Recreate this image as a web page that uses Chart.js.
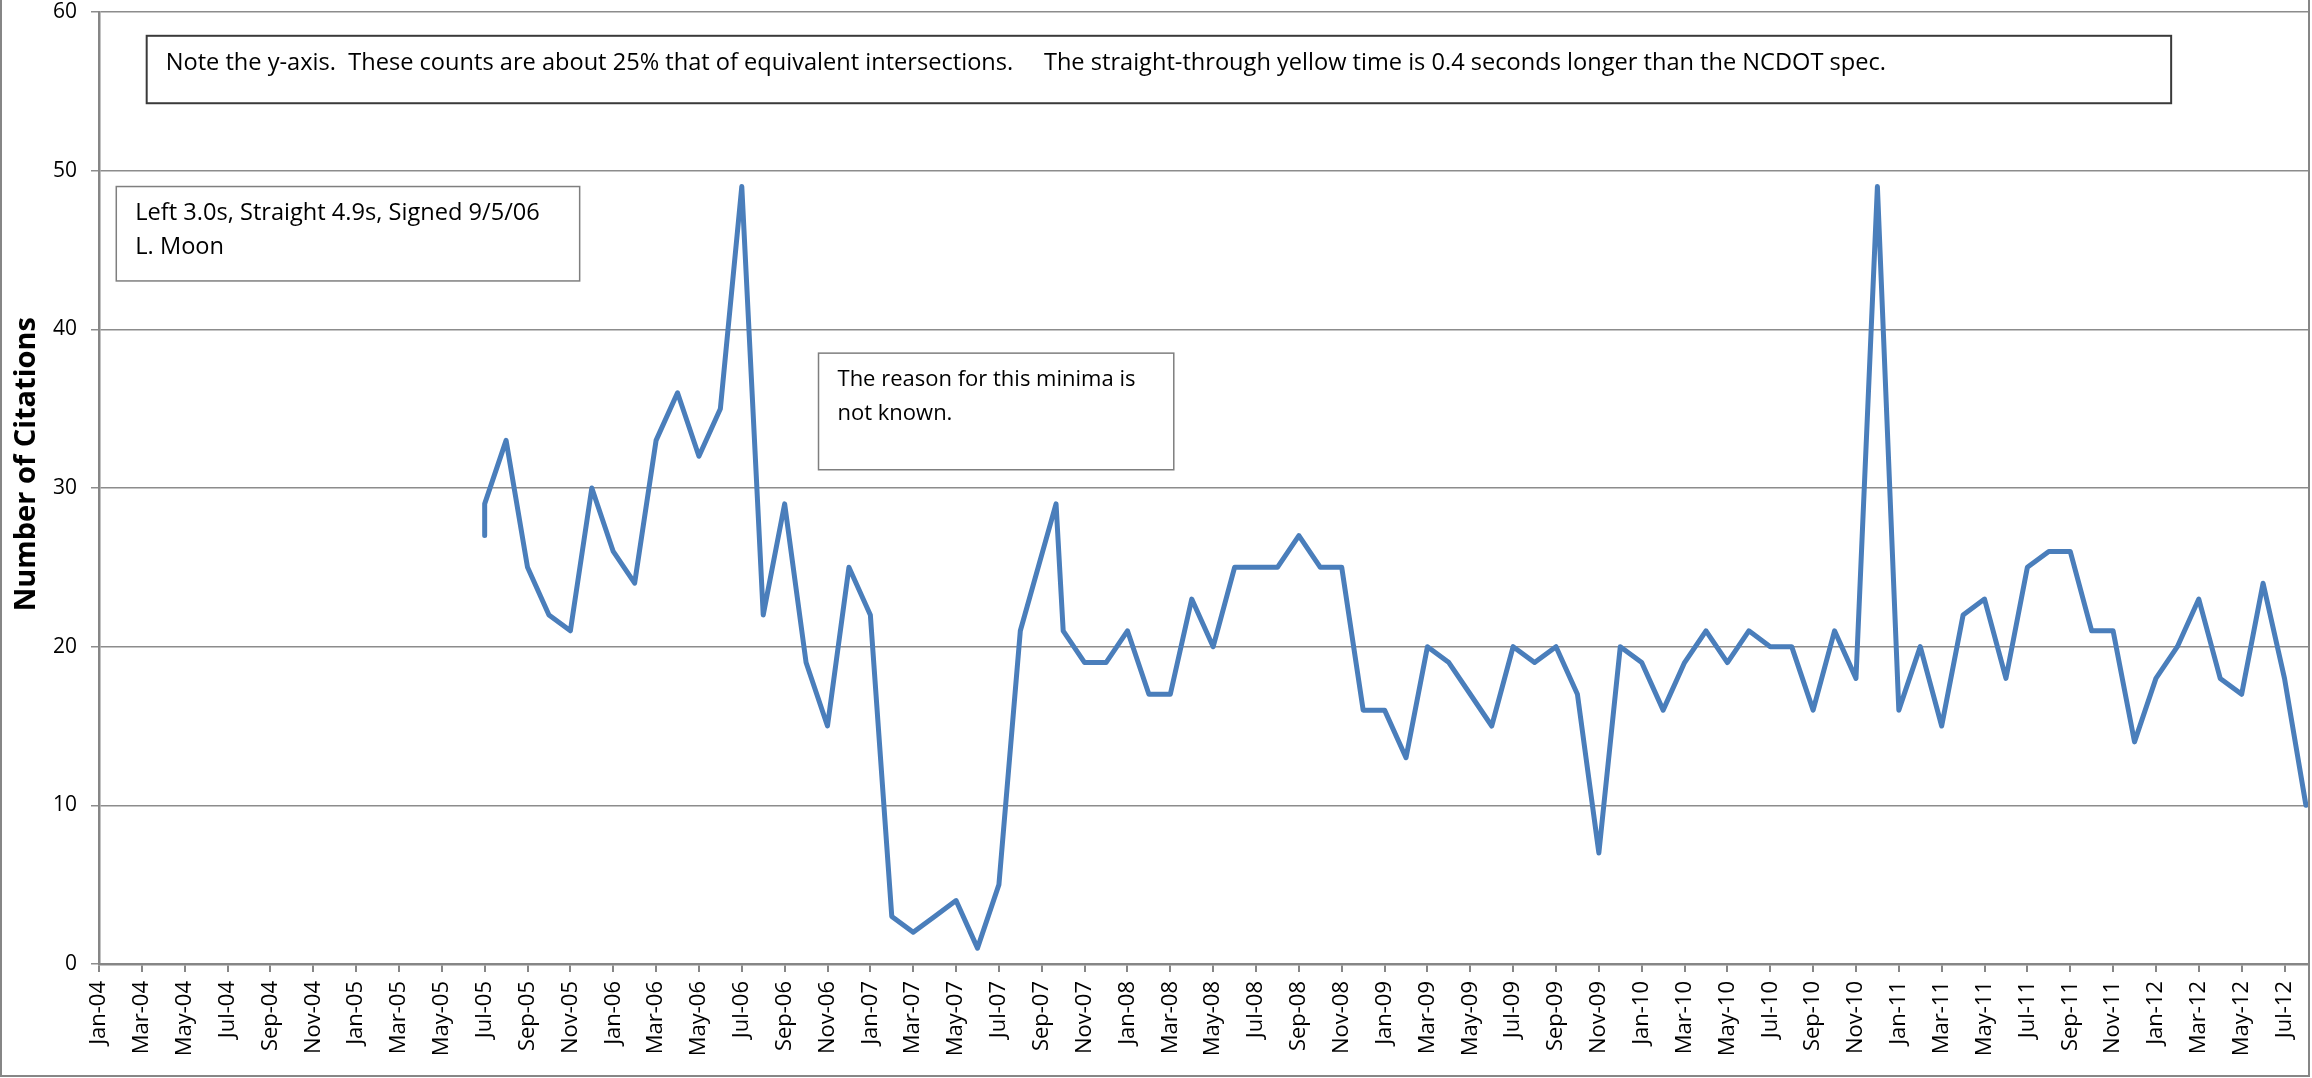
<!DOCTYPE html>
<html lang="en">
<head>
    <meta charset="UTF-8">
    <title>Number of Citations</title>
    <script src="https://cdn.jsdelivr.net/npm/chart.js"></script>
    <style>
        html, body { margin: 0; padding: 0; background: #fff; }
        #wrap { width: 2312px; height: 1078px; }
    </style>
</head>
<body>
    <div id="wrap"><canvas id="citeChart" width="2312" height="1078"></canvas></div>

    <script>
        // Citation counts by month (date of each count)
        const dates = [
            '2005-07-01', '2005-07-01', '2005-08-01', '2005-09-01', '2005-10-01', '2005-11-01', '2005-12-01',
            '2006-01-01', '2006-02-01', '2006-03-01', '2006-04-01', '2006-05-01', '2006-06-01',
            '2006-07-01', '2006-08-01', '2006-09-01', '2006-10-01', '2006-11-01', '2006-12-01',
            '2007-01-01', '2007-02-01', '2007-03-01', '2007-04-01', '2007-05-01', '2007-06-01',
            '2007-07-01', '2007-08-01', '2007-09-21', '2007-10-01', '2007-11-01', '2007-12-01',
            '2008-01-01', '2008-02-01', '2008-03-01', '2008-04-01', '2008-05-01', '2008-06-01',
            '2008-07-01', '2008-08-01', '2008-09-01', '2008-10-01', '2008-11-01', '2008-12-01',
            '2009-01-01', '2009-02-01', '2009-03-01', '2009-04-01', '2009-05-01', '2009-06-01',
            '2009-07-01', '2009-08-01', '2009-09-01', '2009-10-01', '2009-11-01', '2009-12-01',
            '2010-01-01', '2010-02-01', '2010-03-01', '2010-04-01', '2010-05-01', '2010-06-01',
            '2010-07-01', '2010-08-01', '2010-09-01', '2010-10-01', '2010-11-01', '2010-12-01',
            '2011-01-01', '2011-02-01', '2011-03-01', '2011-04-01', '2011-05-01', '2011-06-01',
            '2011-07-01', '2011-08-01', '2011-09-01', '2011-10-01', '2011-11-01', '2011-12-01',
            '2012-01-01', '2012-02-01', '2012-03-01', '2012-04-01', '2012-05-01', '2012-06-01',
            '2012-07-01', '2012-08-01'
        ];
        const citations = [
            27, 29, 33, 25, 22, 21, 30,
            26, 24, 33, 36, 32, 35,
            49, 22, 29, 19, 15, 25,
            22, 3, 2, 3, 4, 1,
            5, 21, 29, 21, 19, 19,
            21, 17, 17, 23, 20, 25,
            25, 25, 27, 25, 25, 16,
            16, 13, 20, 19, 17, 15,
            20, 19, 20, 17, 7, 20,
            19, 16, 19, 21, 19, 21,
            20, 20, 16, 21, 18, 49,
            16, 20, 15, 22, 23, 18,
            25, 26, 26, 21, 21, 14,
            18, 20, 23, 18, 17, 24,
            18, 10
        ];

        // axis range and tick labels
        const axisEnd = '2012-08-04';
        const monthNames = ['Jan', 'Feb', 'Mar', 'Apr', 'May', 'Jun', 'Jul', 'Aug', 'Sep', 'Oct', 'Nov', 'Dec'];
        const yTicks = [0, 10, 20, 30, 40, 50, 60];
        const yTitle = 'Number of Citations';

        // text boxes on the plot
        const notes = [
            { x0: '2004-03-08', x1: '2012-01-23', y0: 58.5, y1: 54.25, border: '#3a3a3a', width: 2, size: 23.6,
              lines: ['Note the y-axis.  These counts are about 25% that of equivalent intersections.     The straight-through yellow time is 0.4 seconds longer than the NCDOT spec.'] },
            { x0: '2004-01-26', x1: '2005-11-14', y0: 49.0, y1: 43.05, border: '#7f7f7f', width: 1.5, size: 23.6,
              lines: ['Left 3.0s, Straight 4.9s, Signed 9/5/06', 'L. Moon'] },
            { x0: '2006-10-19', x1: '2008-03-06', y0: 38.5, y1: 31.15, border: '#7f7f7f', width: 1.5, size: 22,
              lines: ['The reason for this minima is', 'not known.'] }
        ];

        const FONT = "'Open Sans', 'Liberation Sans', sans-serif";

        // months since Jan-04, fractional by day
        function monthIndex(s) {
            const [y, m, d] = s.split('-').map(Number);
            const days = new Date(y, m, 0).getDate();
            return (y - 2004) * 12 + (m - 1) + (d - 1) / days;
        }

        const points = dates.map((d, i) => ({ x: monthIndex(d), y: citations[i] }));

        const frame = {
            id: 'frame',
            afterDraw(chart) {
                const ctx = chart.ctx;
                const xs = chart.scales.x, ys = chart.scales.y;
                ctx.save();
                notes.forEach(n => {
                    const left = xs.getPixelForValue(monthIndex(n.x0));
                    const right = xs.getPixelForValue(monthIndex(n.x1));
                    const top = ys.getPixelForValue(n.y0);
                    const bottom = ys.getPixelForValue(n.y1);
                    ctx.fillStyle = '#fff';
                    ctx.fillRect(left, top, right - left, bottom - top);
                    ctx.strokeStyle = n.border;
                    ctx.lineWidth = n.width;
                    ctx.strokeRect(left, top, right - left, bottom - top);
                    ctx.fillStyle = '#000';
                    ctx.font = n.size + 'px ' + FONT;
                    ctx.textBaseline = 'middle';
                    ctx.textAlign = 'left';
                    n.lines.forEach((t, i) => {
                        ctx.fillText(t, left + 19, top + 27 + i * 33.5);
                    });
                });

                // y axis title, centred a little above the plot middle like the original
                ctx.translate(27, ys.getPixelForValue(31.5));
                ctx.rotate(-Math.PI / 2);
                ctx.textAlign = 'center';
                ctx.textBaseline = 'middle';
                ctx.font = 'bold 29px ' + FONT;
                ctx.fillText(yTitle, 0, 0);
                ctx.setTransform(1, 0, 0, 1, 0, 0);

                // outer chart border
                ctx.strokeStyle = '#868686';
                ctx.lineWidth = 2;
                ctx.beginPath();
                ctx.moveTo(1, 0);
                ctx.lineTo(1, chart.height - 2);
                ctx.lineTo(chart.width - 3, chart.height - 2);
                ctx.lineTo(chart.width - 3, 0);
                ctx.stroke();
                ctx.restore();
            }
        };

        new Chart(document.getElementById('citeChart'), {
            type: 'scatter',
            data: {
                datasets: [{
                    label: 'Citations',
                    data: points,
                    showLine: true,
                    borderColor: '#4A7EBB',
                    backgroundColor: '#4A7EBB',
                    borderWidth: 5,
                    borderCapStyle: 'round',
                    borderJoinStyle: 'round',
                    pointRadius: 0,
                    tension: 0
                }]
            },
            options: {
                responsive: false,
                animation: false,
                devicePixelRatio: 1,
                layout: { padding: { top: 12, right: 4, left: 0, bottom: 0 } },
                plugins: { legend: { display: false }, tooltip: { enabled: false } },
                scales: {
                    x: {
                        type: 'linear',
                        min: 0,
                        max: monthIndex(axisEnd),
                        afterFit: s => { s.height = 114; s.paddingLeft = 0; s.paddingRight = 0; },
                        afterBuildTicks: s => {
                            s.ticks = [];
                            for (let v = 0; v <= s.max; v += 2) s.ticks.push({ value: v });
                        },
                        grid: { drawOnChartArea: false, drawTicks: true, tickLength: 8, color: '#868686', lineWidth: 2 },
                        border: { color: '#868686', width: 2.5 },
                        ticks: {
                            autoSkip: false,
                            maxRotation: 90,
                            minRotation: 90,
                            padding: 9,
                            color: '#000',
                            font: { family: FONT, size: 22 },
                            callback: v => monthNames[v % 12] + '-' + String(4 + Math.floor(v / 12)).padStart(2, '0')
                        }
                    },
                    y: {
                        min: 0,
                        max: 60,
                        afterFit: s => { s.width = 99; s.paddingTop = 0; s.paddingBottom = 0; },
                        afterBuildTicks: s => { s.ticks = yTicks.map(v => ({ value: v })); },
                        grid: { color: '#8c8c8c', lineWidth: 1.5, tickLength: 8 },
                        border: { color: '#868686', width: 2.5 },
                        ticks: { padding: 14, color: '#000', font: { family: FONT, size: 21 } }
                    }
                }
            },
            plugins: [frame]
        });
    </script>
</body>
</html>
